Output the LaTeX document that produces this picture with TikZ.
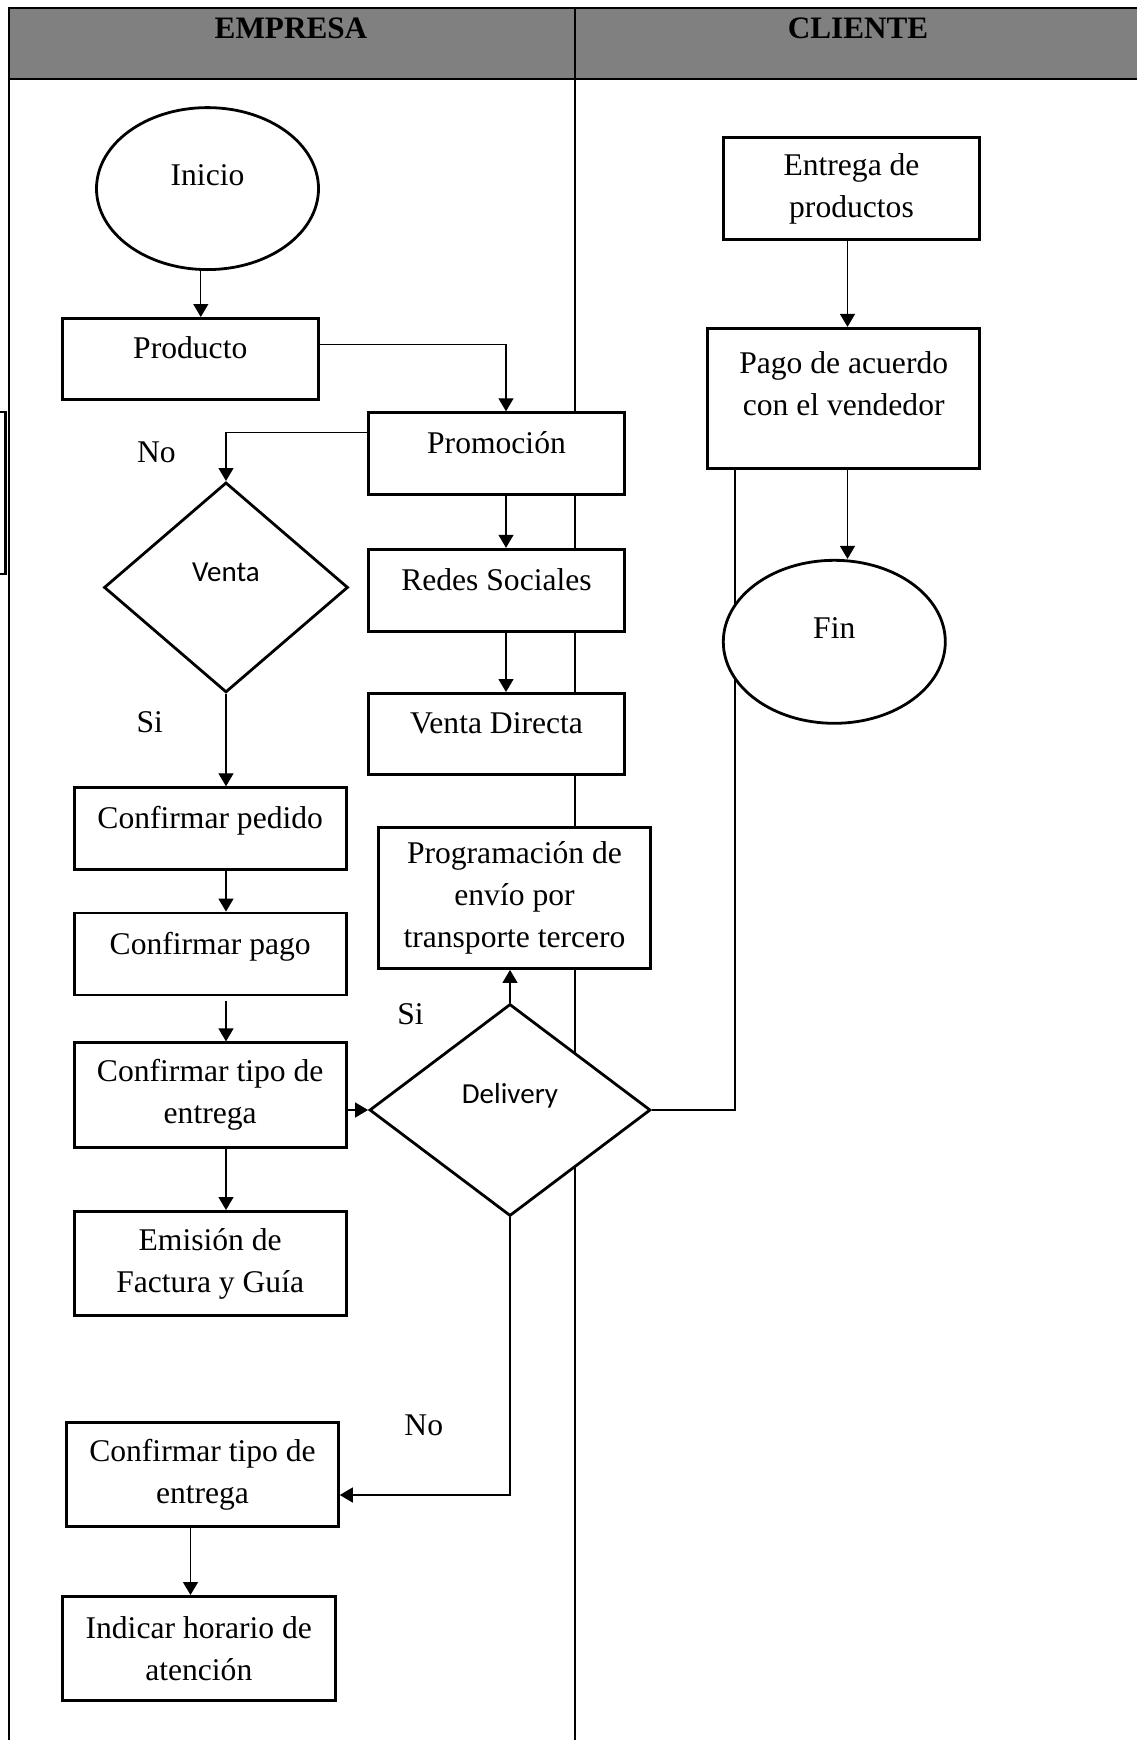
\documentclass[tikz,border=0pt]{standalone}
\usepackage{fontspec}
\setmainfont{Liberation Serif}
\newfontfamily\calfont{Carlito}
\usetikzlibrary{arrows.meta,shapes.geometric,backgrounds}
\definecolor{hdrgray}{RGB}{128,128,128}
\begin{document}
\begin{tikzpicture}[x=0.5pt,y=-0.5pt,
  txt/.style={font=\fontsize{15.8pt}{21pt}\selectfont, align=center, inner sep=0pt},
  box/.style={txt, draw, line width=1.4pt, fill=white, rectangle},
  one/.style={text height=11pt, text depth=11pt},
  oval/.style={txt, draw, line width=1.4pt, fill=white, ellipse, text height=11pt, text depth=14pt},
  dia/.style={draw, line width=1.4pt, fill=white, diamond, inner sep=0pt, font=\calfont\fontsize{14.5pt}{18pt}\selectfont, text height=10pt, text depth=16.4pt},
  lane/.style={line width=1.1pt},
  con/.style={line width=0.65pt},
  arr/.style={con, -{Triangle[width=7.5pt,length=6.5pt]}},
  hdr/.style={font=\bfseries\fontsize{15.6pt}{19pt}\selectfont, inner sep=0pt},
  lbl/.style={txt}
]
\useasboundingbox (0,0) rectangle (1136,1740);

% header texts
\node[hdr, anchor=base] (hemp) at (291,39) {EMPRESA};
\node[hdr, anchor=base] (hcli) at (858,39) {CLIENTE};

% empresa lane
\node[oval, minimum width=111pt, minimum height=81pt] (ini) at (207.5,188.6) {Inicio};
\node[box, one, minimum width=128.2pt, minimum height=40.5pt] (prod) at (190.3,358.9) {Producto};
\node[box, one, minimum width=128.2pt, minimum height=41pt] (prom) at (496.5,453.7) {Promoción};
\node[box, one, minimum width=128.2pt, minimum height=41pt] (red) at (496.5,590.2) {Redes Sociales};
\node[box, one, minimum width=128.2pt, minimum height=40.5pt] (vd) at (496.5,733.9) {Venta Directa};
\node[dia, minimum width=122pt, minimum height=105pt] (ven) at (226,587.4) {Venta};
\node[box, one, minimum width=135.9pt, minimum height=41pt] (cp) at (210.2,828.7) {Confirmar pedido};
\node[box, one, minimum width=135.9pt, minimum height=41pt] (cpg) at (210.2,954) {Confirmar pago};
\node[box, minimum width=135.9pt, minimum height=52.2pt] (ct) at (210.2,1095) {Confirmar tipo de\\entrega};
\node[box, minimum width=135.9pt, minimum height=52.2pt] (em) at (210.2,1263.6) {Emisión de\\Factura y Guía};
\node[dia, minimum width=140.5pt, minimum height=106pt] (del) at (510,1110) {Delivery};
\node[box, minimum width=136pt, minimum height=70.5pt] (prog) at (514.5,898) {Programación de\\envío por\\transporte tercero};
\node[box, minimum width=135.9pt, minimum height=52.2pt] (ct2) at (202.5,1474.4) {Confirmar tipo de\\entrega};
\node[box, minimum width=136.6pt, minimum height=52.2pt] (ind) at (198.8,1648.6) {Indicar horario de\\atención};

% cliente lane
\node[box, minimum width=128.2pt, minimum height=51pt] (ent) at (851.5,188.6) {Entrega de\\productos};
\node[box, minimum width=135.9pt, minimum height=70pt,
      label={[txt, name=pagot, yshift=7.2pt]center:Pago de acuerdo\\con el vendedor}] (pago) at (843.7,398.3) {};
\node[oval, minimum width=111pt, minimum height=81.5pt] (fin) at (834.3,641.8) {Fin};

% branch labels
\node[lbl] (no1) at (156.4,452.6) {No};
\node[lbl] (si1) at (149.8,722.2) {Si};
\node[lbl] (si2) at (410.5,1014) {Si};
\node[lbl] (no2) at (423.8,1425.6) {No};

\coordinate (xA) at (200.8,0);
\coordinate (xB) at (506,0);
\coordinate (xC) at (226,0);
\coordinate (xD) at (190.5,0);
\coordinate (xE) at (847.5,0);
\coordinate (xF) at (735,0);
\coordinate (yN) at (0,1495);

\begin{pgfonlayer}{background}
  % swimlanes
  \fill[hdrgray] (8.7,8.3) rectangle (1140,79);
  \draw[lane] (1140,8.3) -- (8.7,8.3) -- (8.7,1745);
  \draw[line width=1.4pt] (8.7,79) -- (1140,79);
  \draw[lane] (575,8.3) -- (575,1745);
  \draw[line width=1.2pt] (-3,412) rectangle (5.5,574);
  % connectors
  \draw[arr] (ini.south -| xA) -- (prod.north -| xA);
  \draw[arr] ([yshift=7.3pt]prod.east) -| (prom.north -| xB);
  \draw[arr] (prom.south -| xB) -- (red.north -| xB);
  \draw[arr] (red.south -| xB) -- (vd.north -| xB);
  \draw[arr] ([yshift=10.7pt]prom.west) -| (ven.north);
  \draw[arr] (ven.south) -- (cp.north -| ven.south);
  \draw[arr] (cp.south -| xC) -- (cpg.north -| xC);
  \draw[arr, shorten <=2.5pt] (cpg.south -| xC) -- (ct.north -| xC);
  \draw[arr] (ct.east |- del.west) -- (del.west);
  \draw[arr] (ct.south -| xC) -- (em.north -| xC);
  \draw[arr] (del.north) -- (prog.south -| del.north);
  \draw[arr] (del.south) -- (del.south |- yN) -- (ct2.east |- yN);
  \draw[arr] (ct2.south -| xD) -- (ind.north -| xD);
  \draw[arr] (ent.south -| xE) -- (pago.north -| xE);
  \draw[arr] (pago.south -| xE) -- (fin.north -| xE);
  \draw[con] (del.east) -- (del.east -| xF) -- (pago.south -| xF);
\end{pgfonlayer}
\end{tikzpicture}
\end{document}
